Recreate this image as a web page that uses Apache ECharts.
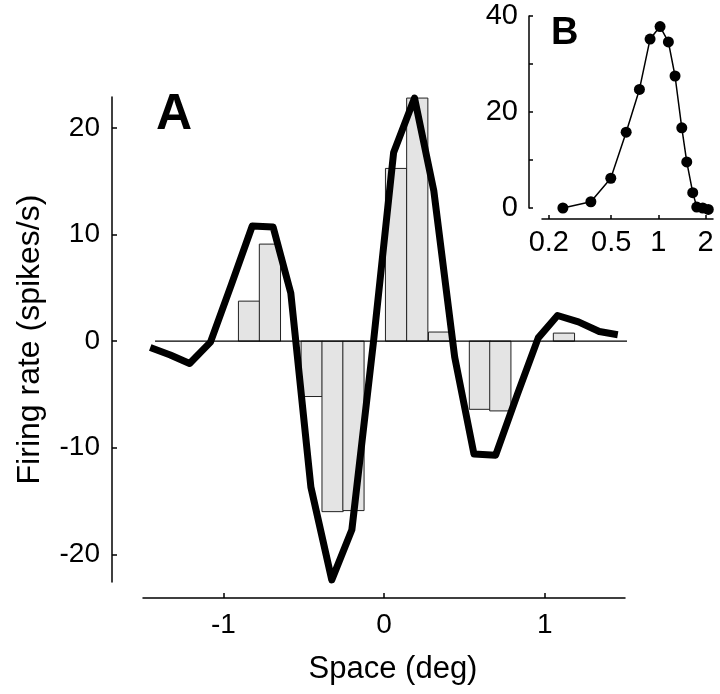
<!DOCTYPE html>
<html>
<head>
<meta charset="utf-8">
<script src="https://cdn.jsdelivr.net/npm/echarts@6/dist/echarts.min.js"></script>
<style>
  html, body { margin: 0; padding: 0; background: #fff; }
  #chart { width: 720px; height: 694px; }
</style>
</head>
<body>
<div id="chart"></div>
<script>
  // panel A: histogram bins (deg, spikes/s)
  const binCenters = [-0.84, -0.71, -0.45, -0.32, -0.19, 0.075, 0.207, 0.343, 0.597, 0.724, 1.12]
  const binRates = [3.75, 9.1, -5.2, -16.0, -15.9, 16.2, 22.8, 0.85, -6.4, -6.55, 0.75]
  const binWidth = 0.132

  // panel A: thick model curve
  const curveX = [-1.455, -1.33, -1.21, -1.08, -0.95, -0.82, -0.69, -0.58, -0.455, -0.325, -0.2, -0.065,
                  0.06, 0.19, 0.31, 0.44, 0.56, 0.695, 0.83, 0.96, 1.08, 1.21, 1.34, 1.455]
  const curveY = [-0.6, -1.3, -2.1, -0.1, 5.3, 10.8, 10.7, 4.5, -13.7, -22.4, -17.7, 0.0,
                  17.7, 22.8, 14.1, -1.5, -10.6, -10.7, -5.0, 0.3, 2.4, 1.8, 0.9, 0.6]

  // zero reference line extent
  const zeroFrom = -1.425
  const zeroTo = 1.578

  // panel B: tuning (stimulus size, spikes/s)
  const sizeDeg = [0.246, 0.371, 0.497, 0.623, 0.757, 0.885, 1.025, 1.158, 1.277, 1.41, 1.517, 1.656, 1.757, 1.918, 2.08]
  const sizeRate = [0.0, 1.3, 6.2, 15.8, 24.7, 35.2, 37.8, 34.6, 27.5, 16.7, 9.6, 3.2, 0.2, 0.0, -0.3]

  const mainTicksX = [-1, 0, 1]
  const mainTicksY = [-20, -10, 0, 10, 20]
  const insetTicksX = [0.2, 0.5, 1, 2]

  const font = 'Liberation Sans, Arial, Helvetica, sans-serif'
  const axisLine = { show: true, onZero: false, lineStyle: { color: '#000', width: 1.5 } }

  let myChart = echarts.init(document.getElementById('chart'))

  let opt = {
    animation: false,
    backgroundColor: '#fff',
    grid: [
      { left: 143, top: 97, width: 482, height: 485, outerBoundsMode: 'none', containLabel: false },
      { left: 542, top: 16, width: 171, height: 192, outerBoundsMode: 'none', containLabel: false }
    ],
    xAxis: [
      {
        type: 'value', gridIndex: 0, min: -1.5, max: 1.5, offset: 16,
        axisLine: axisLine,
        axisTick: { show: true, inside: true, length: 5, customValues: mainTicksX, lineStyle: { color: '#000', width: 1.5 } },
        axisLabel: { customValues: mainTicksX, margin: 13, color: '#000', fontSize: 28, fontFamily: font },
        splitLine: { show: false },
        name: 'Space (deg)', nameLocation: 'middle', nameGap: 56,
        nameTextStyle: { color: '#000', fontSize: 31, fontFamily: font, padding: [0, 0, 0, 18] }
      },
      {
        type: 'log', gridIndex: 1, min: 0.181, max: 2.23, offset: 11,
        axisLine: axisLine,
        axisTick: { show: true, inside: true, length: 4, customValues: insetTicksX, lineStyle: { color: '#000', width: 1.5 } },
        axisLabel: { customValues: insetTicksX, margin: 9, color: '#000', fontSize: 29, fontFamily: font },
        splitLine: { show: false },
        minorTick: { show: false }
      }
    ],
    yAxis: [
      {
        type: 'value', gridIndex: 0, min: -22.6, max: 22.9, offset: 31,
        axisLine: axisLine,
        axisTick: { show: true, inside: true, length: 5, customValues: mainTicksY, lineStyle: { color: '#000', width: 1.5 } },
        axisLabel: { customValues: mainTicksY, margin: 12, color: '#000', fontSize: 28, fontFamily: font },
        splitLine: { show: false },
        name: 'Firing rate (spikes/s)', nameLocation: 'middle', nameGap: 66,
        nameTextStyle: { color: '#000', fontSize: 32, fontFamily: font }
      },
      {
        type: 'value', gridIndex: 1, min: 0, max: 40, interval: 10, offset: 13,
        axisLine: axisLine,
        axisTick: { show: true, inside: true, length: 4, lineStyle: { color: '#000', width: 1.5 } },
        axisLabel: {
          margin: 11, color: '#000', fontSize: 29, fontFamily: font,
          formatter: function (v) { return v % 20 === 0 ? String(v) : '' }
        },
        splitLine: { show: false }
      }
    ],
    graphic: [
      { type: 'text', left: 156, top: 90, style: { text: 'A', font: 'bold 50px ' + font, fill: '#000' } },
      { type: 'text', left: 551, top: 15, style: { text: 'B', font: 'bold 38px ' + font, fill: '#000' } }
    ],
    series: [
      {
        name: 'bins',
        type: 'custom',
        xAxisIndex: 0, yAxisIndex: 0,
        data: binCenters.map((c, i) => [c, binRates[i]]),
        renderItem: function (params, api) {
          let x = api.value(0)
          let y = api.value(1)
          let p0 = api.coord([x - binWidth / 2, y])
          let p1 = api.coord([x + binWidth / 2, 0])
          return {
            type: 'rect',
            shape: {
              x: p0[0], y: Math.min(p0[1], p1[1]),
              width: p1[0] - p0[0], height: Math.abs(p1[1] - p0[1])
            },
            style: { fill: '#e4e4e4', stroke: '#222', lineWidth: 1 }
          }
        },
        z: 2
      },
      {
        name: 'zero',
        type: 'line',
        xAxisIndex: 0, yAxisIndex: 0,
        data: [[zeroFrom, 0], [zeroTo, 0]],
        symbol: 'none',
        clip: false,
        lineStyle: { color: '#000', width: 1.2 },
        z: 3
      },
      {
        name: 'model',
        type: 'line',
        xAxisIndex: 0, yAxisIndex: 0,
        data: curveX.map((x, i) => [x, curveY[i]]),
        symbol: 'none',
        clip: false,
        lineStyle: { color: '#000', width: 7, join: 'round' },
        z: 4
      },
      {
        name: 'tuning',
        type: 'line',
        xAxisIndex: 1, yAxisIndex: 1,
        data: sizeDeg.map((s, i) => [s, sizeRate[i]]),
        symbol: 'circle',
        symbolSize: 11,
        clip: false,
        itemStyle: { color: '#000' },
        lineStyle: { color: '#000', width: 1.5 },
        z: 5
      }
    ]
  }

  myChart.setOption(opt)
</script>
</body>
</html>
